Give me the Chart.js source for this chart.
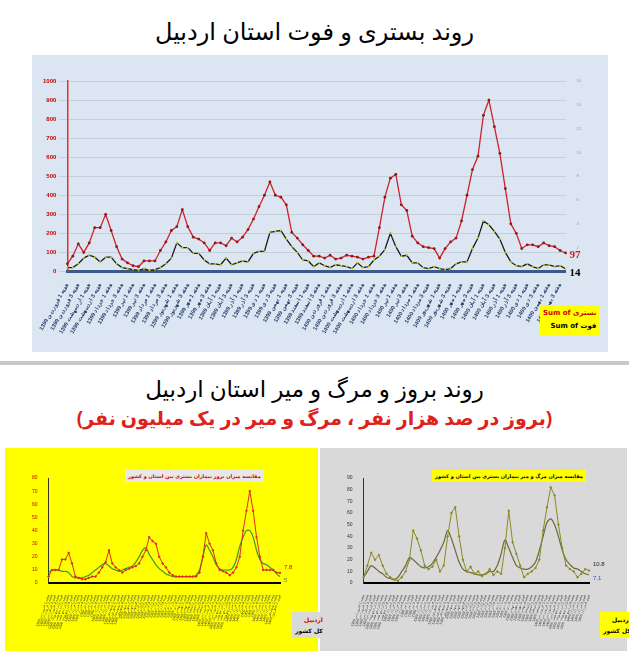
<!DOCTYPE html>
<html><head><meta charset="utf-8">
<script src="https://cdn.jsdelivr.net/npm/chart.js@4"></script>
<style>
body{margin:0;width:629px;height:659px;background:#fff;font-family:"DejaVu Sans",sans-serif;position:relative;overflow:hidden}
.t{position:absolute;left:0;width:629px;text-align:center;direction:rtl}
.box{position:absolute}
.lg{position:absolute;font-size:8px;font-weight:bold;direction:rtl;padding:2px 3px;line-height:13px;white-space:nowrap}
</style></head><body>
<div class="t" style="top:14px;font-size:24px;font-family:'Noto Sans','DejaVu Sans'">روند بستری و فوت استان اردبیل</div>
<div class="box" style="left:32px;top:55px;width:576px;height:297px;background:#dce6f2"><canvas id="c1"></canvas></div>
<div class="box" style="left:0;top:361px;width:629px;height:4px;background:#c8c8c8"></div>
<div class="t" style="top:372px;font-size:23px;font-family:'Noto Sans','DejaVu Sans'">روند بروز و مرگ و میر استان اردبیل</div>
<div class="t" style="top:405px;font-size:19px;font-weight:bold;color:#e0201a;font-family:'Noto Sans','DejaVu Sans'">(بروز در صد هزار نفر ، مرگ و میر در یک میلیون نفر)</div>
<div class="box" style="left:5px;top:448px;width:313px;height:203px;background:#ffff00"><canvas id="c2"></canvas></div>
<div class="box" style="left:320px;top:448px;width:307px;height:203px;background:#d9d9d9"><canvas id="c3"></canvas></div>
<div class="lg" style="left:540px;top:305px;background:#ffff00;font-size:7px"><span style="color:#c00">بستری Sum of</span><br><span>فوت Sum of</span></div>
<div class="lg" style="left:292px;top:612px;background:#d9d9d9;font-size:6px;line-height:11px"><span style="color:#c00">اردبیل</span><br>کل کشور</div>
<div class="lg" style="left:600px;top:612px;background:#ffff00;font-size:6px;line-height:11px">اردبیل<br>کل کشور</div>
<div class="lg" style="left:125px;top:470px;background:#e8e8e8;color:#c00;font-size:5px;line-height:8px">مقایسه میزان بروز بیماران بستری بین استان و کشور</div>
<div class="lg" style="left:432px;top:470px;background:#ffff00;font-size:5px;line-height:8px">مقایسه میزان مرگ و میر بیماران بستری بین استان و کشور</div>
<script>
const months=["فروردین","اردیبهشت","خرداد","تیر","مرداد","شهریور","مهر","آبان","آذر","دی","بهمن","اسفند"];
const hospital=[40,80,145,100,150,230,230,300,215,130,65,45,30,25,55,55,55,110,155,215,235,325,235,180,170,150,110,150,150,135,175,155,180,220,275,340,400,470,400,390,350,205,175,140,110,80,80,70,85,65,70,85,80,75,65,75,80,230,390,490,510,350,320,185,150,130,125,120,70,120,155,175,265,400,535,605,820,900,760,620,435,250,200,120,140,140,130,150,135,130,110,97];
const deaths=[20,20,40,70,85,75,50,75,75,40,20,15,10,5,15,5,10,20,40,70,150,125,125,95,95,60,40,40,35,70,35,45,55,50,95,105,105,205,210,215,170,130,100,60,55,25,45,30,20,35,30,25,15,45,20,25,60,80,115,200,130,80,85,45,45,20,15,25,15,10,15,40,50,50,120,175,265,245,210,170,100,50,30,25,40,25,15,35,35,25,30,14];
const incProv=[5,10,10,10,18,18,23,15,5,4,3,3,4,5,5,8,12,16,25,15,12,10,8,10,11,12,13,15,20,25,35,32,30,20,15,12,8,6,5,5,5,5,5,5,5,8,20,38,30,25,15,10,9,8,6,8,12,20,40,55,70,55,35,20,10,10,10,10,8,7.8];
const incCountry=[8,10,10,10,9,9,8,5,4,4,4,5,6,8,10,12,14,15,13,11,10,9,10,11,12,13,16,20,25,27,22,18,14,11,9,7,6,5,5,5,5,5,5,5,6,10,20,29,25,20,14,11,10,10,10,12,18,28,35,40,40,35,25,18,15,14,12,10,7,5];
const mortProv=[5,15,26,20,24,15,8,5,3,2,5,10,20,45,38,28,15,12,14,20,10,15,40,60,65,40,20,10,14,8,10,6,8,12,7,10,8,30,62,35,25,15,5,8,10,13,20,45,65,82,75,50,30,15,12,10,5,8,12,10.8];
const mortCountry=[5,10,15,13,10,8,5,4,3,5,10,15,22,20,17,14,13,14,17,22,28,35,45,38,28,18,12,10,9,8,7,7,8,10,10,15,25,37,30,22,15,13,12,12,14,18,28,40,52,55,50,40,28,20,16,13,12,10,8,7.1];
function weekLabels(n,startYear){const out=[];let y=startYear,m=0,w=1;for(let i=0;i<n;i++){out.push(y+" هفته "+w+" "+months[m]);w++;if(w>4){w=1;m++;if(m>11){m=0;y++;}}}return out;}
const labelsTop=weekLabels(hospital.length,1399);
const labelsInc=weekLabels(incProv.length,1399);
const labelsMort=weekLabels(mortProv.length,1399);
const endLabels={id:'endLabels',afterDatasetsDraw(ch,a,o){const ctx=ch.ctx;ch.data.datasets.forEach((d,i)=>{if(!d.endColor)return;const m=ch.getDatasetMeta(i);const p=m.data[m.data.length-1];ctx.save();ctx.font=(d.endFont||'bold 11px "Liberation Serif"');ctx.fillStyle=d.endColor;ctx.textBaseline='middle';ctx.fillText(String(d.data[d.data.length-1]),p.x+4,p.y+(d.endDy||0));ctx.restore();});}};
Chart.defaults.animation=false;Chart.defaults.responsive=true;Chart.defaults.maintainAspectRatio=false;
new Chart(document.getElementById('c1'),{type:'line',data:{labels:labelsTop,datasets:[
{data:hospital,borderColor:'#d0202a',borderWidth:1.3,pointRadius:1.4,pointBackgroundColor:'#8b1a1a',pointBorderWidth:0,tension:0,endColor:'#c0202a',endDy:2},
{data:deaths,borderColor:'#1a1a1a',borderWidth:1.3,pointRadius:1,pointBackgroundColor:'#c8d400',pointBorderWidth:0,tension:0,endColor:'#000',endDy:4}]},
options:{layout:{padding:{left:8,right:24,top:26,bottom:14}},plugins:{legend:{display:false},tooltip:{enabled:false}},
scales:{x:{grid:{display:false},border:{color:'#3b5a8c',width:3},ticks:{autoSkip:false,maxRotation:60,minRotation:60,font:{size:5.5,weight:'bold'},color:'#1f3864',callback:(v,i)=>i%2==0?labelsTop[i]:''}},
y:{min:0,max:1000,ticks:{stepSize:100,font:{size:6,weight:'bold'},color:'#c00000',callback:v=>String(v)},grid:{color:'#c5cfdb'},border:{color:'#e03030',width:1.5}},
y2:{position:'right',min:0,max:16,ticks:{stepSize:2,font:{size:4},color:'#999'},grid:{display:false},border:{display:false}}}},plugins:[endLabels]});
function small(id,labels,a,b,ca,cb,max,tickColor,ea,eb){
new Chart(document.getElementById(id),{type:'line',data:{labels,datasets:[
{data:a,borderColor:ca,borderWidth:1,pointRadius:0.8,pointBackgroundColor:ca,tension:0,endColor:ea,endFont:'6px sans-serif',endDy:-6},
{data:b,borderColor:cb,borderWidth:1.2,pointRadius:0,tension:0.3,endColor:eb,endFont:'6px sans-serif',endDy:4}]},
options:{layout:{padding:{left:24,right:38,top:30,bottom:18}},plugins:{legend:{display:false},tooltip:{enabled:false}},
scales:{x:{grid:{display:false},border:{color:'#000',width:2},ticks:{autoSkip:false,maxRotation:70,minRotation:70,font:{size:3.5},color:'#333'}},
y:{min:0,max:max,ticks:{stepSize:10,font:{size:5},color:tickColor},grid:{display:false},border:{color:'#333'}}}},plugins:[endLabels]});}
small('c2',labelsInc,incProv,incCountry,'#d83020','#3a9a30',80,'#c00','#c00','#3a9a30');
small('c3',labelsMort,mortProv,mortCountry,'#8a8a20','#6a6a40',90,'#333','#222','#2060c0');
</script></body></html>
